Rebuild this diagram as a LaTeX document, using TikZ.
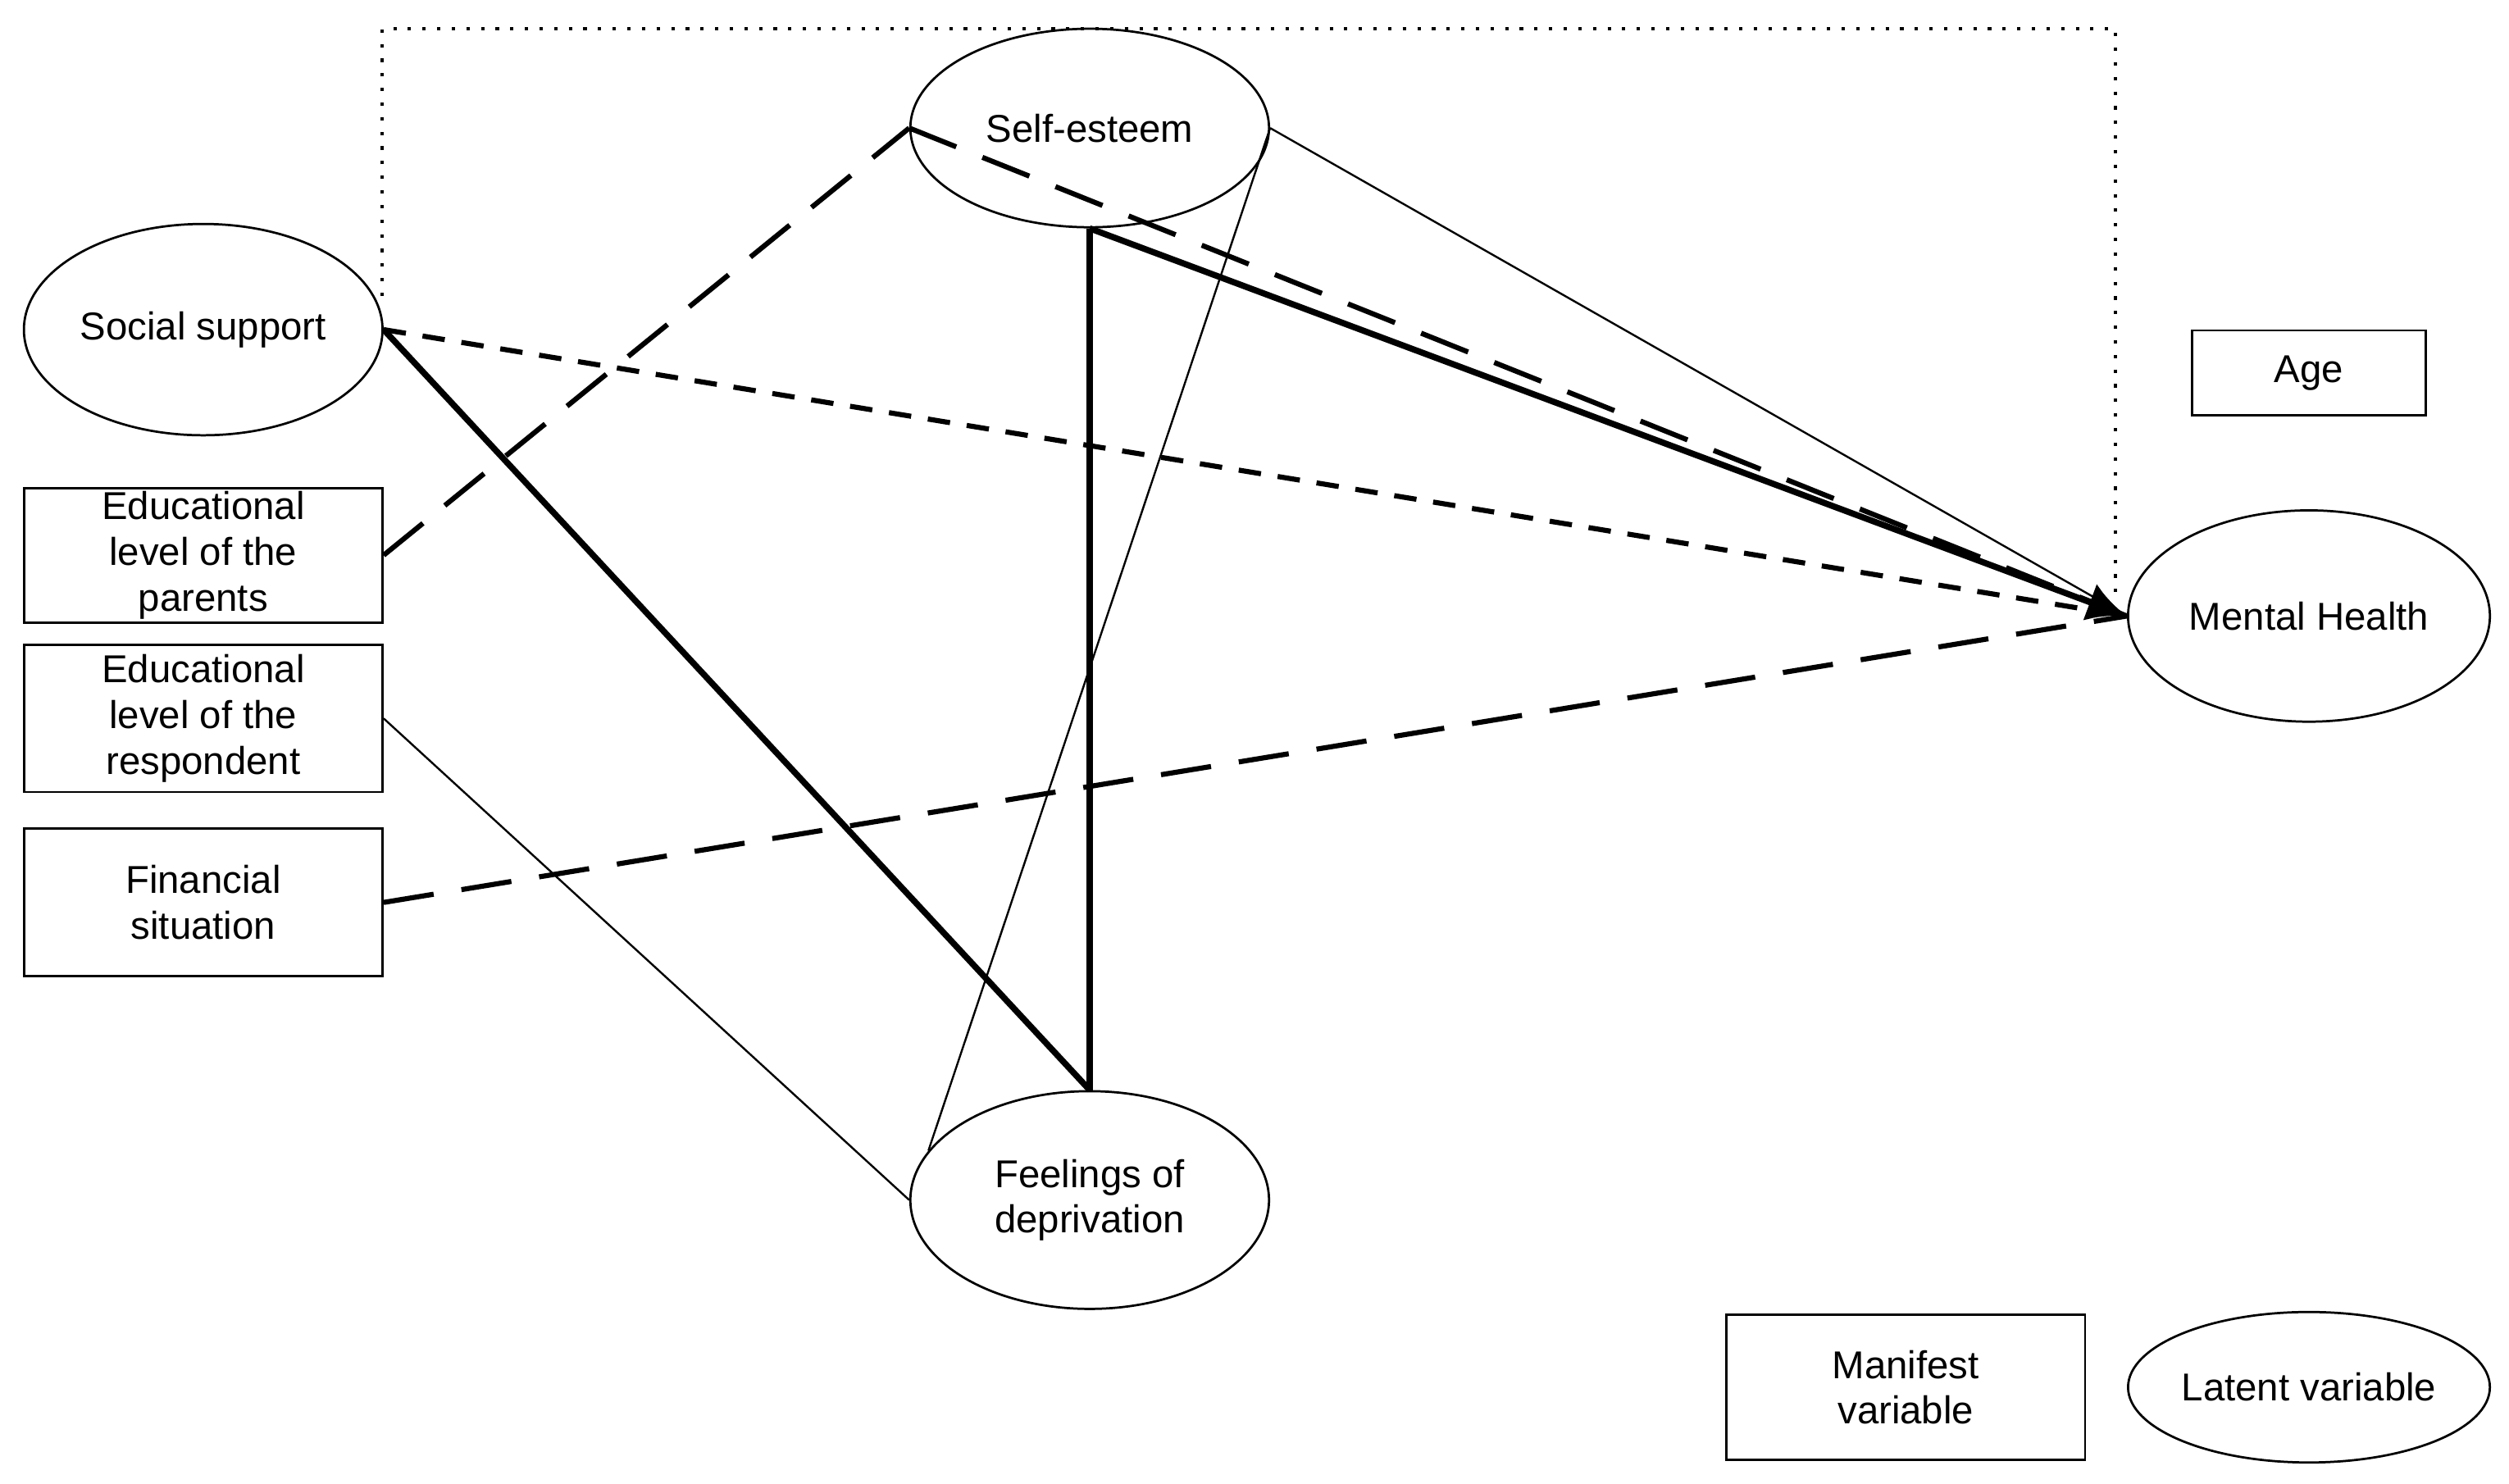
\documentclass[tikz,border=0pt]{standalone}
\usepackage{fontspec}
\setmainfont{Liberation Sans}
\usetikzlibrary{shapes.geometric,arrows.meta}
\begin{document}
\begin{tikzpicture}[x=0.01cm,y=-0.01cm,
  font=\fontsize{6.9}{8.1}\selectfont,
  lat/.style={ellipse,draw,line width=0.4pt,inner sep=0pt,align=center},
  man/.style={rectangle,draw,line width=0.4pt,inner sep=0pt,align=center},
  thk/.style={line width=1.1pt},
  thn/.style={line width=0.35pt},
  ldash/.style={line width=0.9pt,dash pattern=on 9pt off 5pt},
  sdash/.style={line width=0.9pt,dash pattern=on 4pt off 3pt},
  dot/.style={line width=0.6pt,dotted}]
\useasboundingbox (0,0) rectangle (1568,927);
\node[lat,minimum width=2.24cm,minimum height=1.24cm] (se) at (681,80) {Self-esteem};
\node[lat,minimum width=2.24cm,minimum height=1.32cm] (ss) at (127,206) {Social support};
\node[lat,minimum width=2.26cm,minimum height=1.32cm] (mh) at (1443,385) {Mental Health};
\node[lat,minimum width=2.24cm,minimum height=1.36cm] (fe) at (681,750) {Feelings of\\deprivation};
\node[lat,minimum width=2.26cm,minimum height=0.94cm] (lv) at (1443,867) {Latent variable};
\node[man,minimum width=2.24cm,minimum height=0.84cm] (ep) at (127,347) {Educational\\level of the\\parents};
\node[man,minimum width=2.24cm,minimum height=0.92cm] (er) at (127,449) {Educational\\level of the\\respondent};
\node[man,minimum width=2.24cm,minimum height=0.92cm] (fs) at (127,564) {Financial\\situation};
\node[man,minimum width=1.46cm,minimum height=0.53cm] (age) at (1443,233) {Age};
\node[man,minimum width=2.24cm,minimum height=0.91cm] (mv) at (1191,867) {Manifest\\variable};
\coordinate (d0) at (239,185);
\coordinate (d1) at (239,18);
\coordinate (d2) at (1322,18);
\coordinate (d3) at (1322,372);
\draw[dot] (d0) -- (d1) -- (d2) -- (d3);
\draw[ldash] (ep.east) -- (se.west);
\draw[ldash] (se.west) -- (mh.west);
\draw[sdash] (ss.east) -- (mh.west);
\draw[thk] (ss.east) -- (fe.north);
\draw[thk] (se.south) -- (fe.north);
\draw[thk,-{Latex[length=7pt,width=7pt]}] (se.south) -- (mh.west);
\draw[thn] (se.east) -- (mh.west);
\draw[thn] (se.east) -- (fe.163);
\draw[thn] (er.east) -- (fe.west);
\draw[ldash] (fs.east) -- (mh.west);
\end{tikzpicture}
\end{document}
